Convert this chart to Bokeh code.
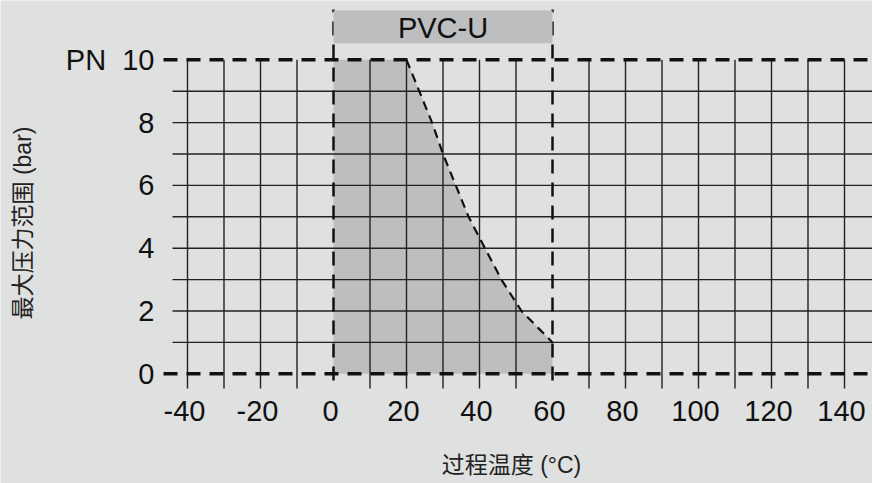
import math
from bokeh.plotting import figure
from bokeh.models import Range1d
from bokeh.core.properties import value
from bokeh.embed import file_html
from bokeh.resources import INLINE

# ---- data ----
temp_ticks = [-40, -20, 0, 20, 40, 60, 80, 100, 120, 140]
temp_grid = [-40, -30, -20, -10, 10, 20, 30, 40, 50, 70, 80, 90, 100, 110, 120, 130, 140]
pressure_ticks = [0, 2, 4, 6, 8, 10]
pressure_tick_labels = ["0", "2", "4", "6", "8", "PN \u00a010"]
pressure_grid = [1, 2, 3, 4, 5, 6, 7, 8, 9]
t_min, t_max, pn = 0, 60, 10
curve_temp = [20, 23.5, 27, 30, 33.5, 37, 41.5, 46, 51.5, 60]
curve_pressure = [10, 9, 8, 7, 6, 5, 4, 3, 2, 1]
material = "PVC-U"
x_title = "过程温度 (°C)"
y_title = "最大压力范围 (bar)"

# ---- layout constants (picture pixel mapping) ----
W, H = 872, 483
X0, KX = 333.0, 3.65
Y0, KY = 373.3, 31.4
BG = "#dfe0e0"
FILL = "#bcbec0"
INK = "#111111"


def tx(sx):
    return (sx - X0) / KX


def py(sy):
    return (Y0 - sy) / KY


p = figure(width=W, height=H, x_range=Range1d(tx(0), tx(W)),
           y_range=Range1d(py(H), py(0)),
           output_backend="svg", toolbar_location=None, min_border=0,
           x_axis_location=None, y_axis_location=None,
           background_fill_color=BG, border_fill_color=BG, outline_line_color=None)
p.grid.visible = False

# permissible area
area_x = [t_min, t_min] + curve_temp + [t_max]
area_y = [0, pn] + curve_pressure + [0]
p.patch(area_x, area_y, fill_color=FILL, line_color=None)

# grid
x_end = p.x_range.end
grid_left = tx(172)
grid_bottom = py(388)
p.segment(x0=temp_grid, y0=[grid_bottom] * len(temp_grid), x1=temp_grid, y1=[pn] * len(temp_grid),
          line_color="#222222", line_width=1.4)
p.segment(x0=[grid_left] * len(pressure_grid), y0=pressure_grid, x1=[x_end] * len(pressure_grid),
          y1=pressure_grid, line_color="#222222", line_width=1.4)

# dashed limit lines
dash_left = tx(163)
p.segment(x0=[dash_left, dash_left], y0=[0, pn], x1=[x_end, x_end], y1=[0, pn],
          line_color=INK, line_width=3.5, line_dash="14 9")
p.segment(x0=[t_min, t_max], y0=[py(380)] * 2, x1=[t_min, t_max], y1=[py(9)] * 2,
          line_color=INK, line_width=2.5, line_dash="14 9")
p.line(curve_temp, curve_pressure, line_color=INK, line_width=2.2, line_dash="9 6")

# material header
p.quad(left=[t_min], right=[t_max], top=[py(10)], bottom=[py(42.7)], fill_color=FILL, line_color=None)
p.text(x=[(t_min + t_max) / 2], y=[py(27.5)], text=[material], text_align="center",
       text_baseline="middle", text_font=value("Liberation Sans"), text_font_size="29px", text_color=INK)

# tick labels
p.text(x=[tx(154)] * len(pressure_ticks), y=pressure_ticks, text=pressure_tick_labels,
       text_align="right", text_baseline="middle", text_font=value("Liberation Sans"),
       text_font_size="29px", text_color=INK)
p.text(x=temp_ticks, y=[py(410)] * len(temp_ticks), text=[str(t) for t in temp_ticks],
       text_align="center", text_baseline="middle", text_font=value("Liberation Sans"),
       text_font_size="29px", text_color=INK, x_offset=-3)

# axis titles
title_font = value("Liberation Sans, Noto Sans CJK SC")
p.text(x=[tx(511)], y=[py(464)], text=[x_title], text_align="center", text_baseline="middle",
       text_font=title_font, text_font_size="23px", text_color="#222222")
p.text(x=[tx(22)], y=[py(222.5)], text=[y_title], angle=math.pi / 2, text_align="center",
       text_baseline="middle", text_font=title_font, text_font_size="23px", text_color="#222222")

html = file_html(p, INLINE)
html = html.replace("<body>", '<body style="background:%s">' % BG, 1)
open("out.html", "w").write(html)
